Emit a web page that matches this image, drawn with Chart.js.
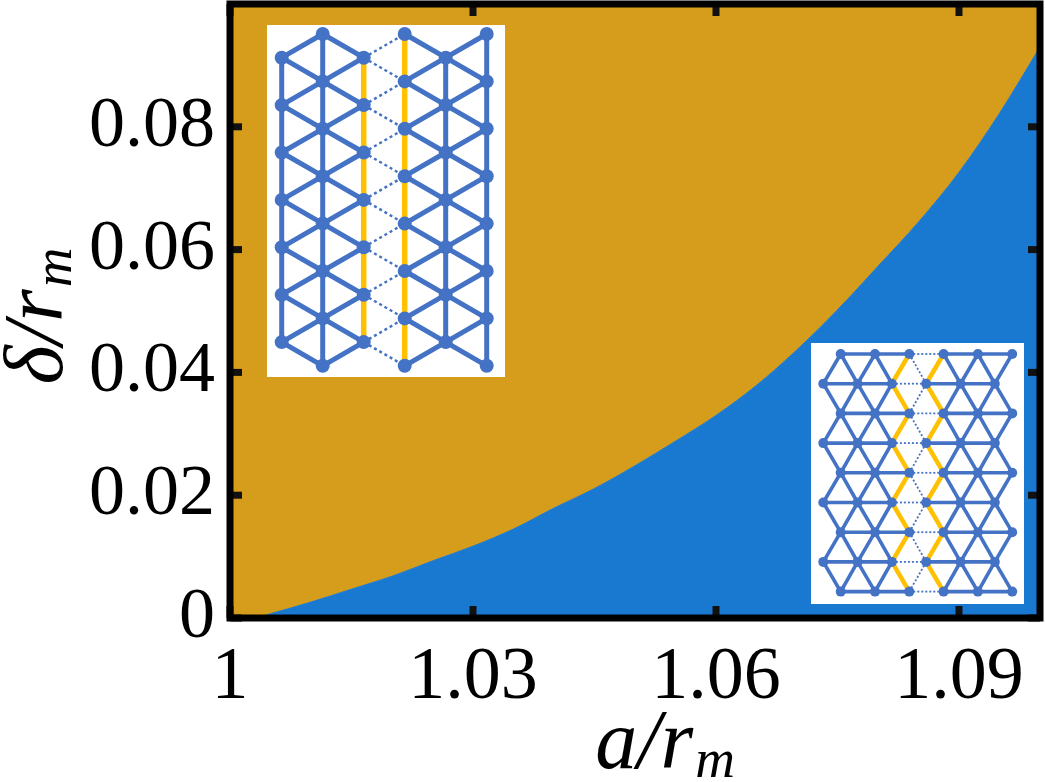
<!DOCTYPE html>
<html>
<head>
<meta charset="utf-8">
<script src="https://cdn.jsdelivr.net/npm/chart.js@4.4.0/dist/chart.umd.min.js"></script>
<style>
  html, body { margin: 0; padding: 0; background: #fff; }
  #wrap { width: 1045px; height: 782px; position: relative; }
</style>
</head>
<body>
<div id="wrap"><canvas id="phase-chart"></canvas></div>
<script>
// phase boundary delta_c(a)
const aValues = [1.000, 1.003, 1.005, 1.010, 1.015, 1.020, 1.025, 1.030, 1.035, 1.040, 1.045,
  1.050, 1.055, 1.060, 1.065, 1.070, 1.075, 1.080, 1.085, 1.090, 1.095, 1.100];
const deltaValues = [0, 0, 0.0007, 0.0026, 0.0047, 0.0068, 0.0093, 0.0117, 0.0145, 0.0179, 0.0211,
  0.0248, 0.0288, 0.0330, 0.0379, 0.0437, 0.0502, 0.0573, 0.0645, 0.0726, 0.0822, 0.0930];

const xTicks = [1, 1.03, 1.06, 1.09];
const xTickLabels = ["1", "1.03", "1.06", "1.09"];
const yTicks = [0, 0.02, 0.04, 0.06, 0.08];
const yTickLabels = ["0", "0.02", "0.04", "0.06", "0.08"];

const ORANGE = "#D69D1C";
const BLUE = "#1979D1";
const NODE = "#4472C4";
const GOLD = "#FFC000";
const SERIF = '"Liberation Serif", "DejaVu Serif", serif';

const points = aValues.map((a, i) => ({ x: a, y: deltaValues[i] }));

// little lattice sketches that sit inside the plot
const drawEdge = (ctx, x1, y1, x2, y2, kind, w) => {
  ctx.save();
  if (kind === "dot") {
    ctx.strokeStyle = NODE;
    ctx.lineWidth = w.dot;
    ctx.setLineDash(w.dash);
  } else if (kind === "gold") {
    ctx.strokeStyle = GOLD;
    ctx.lineWidth = w.gold;
  } else {
    ctx.strokeStyle = NODE;
    ctx.lineWidth = w.line;
  }
  ctx.beginPath();
  ctx.moveTo(x1, y1);
  ctx.lineTo(x2, y2);
  ctx.stroke();
  ctx.restore();
};

const drawNodes = (ctx, nodes, r) => {
  ctx.fillStyle = NODE;
  nodes.forEach(([x, y]) => {
    ctx.beginPath();
    ctx.arc(x, y, r, 0, Math.PI * 2);
    ctx.fill();
  });
};

// columns run vertically, the cut is between column 2 and 3
const drawInsetColumns = (ctx, bx, by, bw, bh) => {
  ctx.fillStyle = "#fff";
  ctx.fillRect(bx, by, bw, bh);
  const w = { line: 5, gold: 5.5, dot: 2.4, dash: [3, 3] };
  const x0 = bx + 14.7, dx = 41, y0 = by + 9, dy = 23.7;
  const nodes = [];
  const colRows = (c) => {
    const rows = [];
    for (let r = 0; r <= 14; r++) if (r % 2 === (c + 1) % 2) rows.push(r);
    return rows;
  };
  for (let c = 0; c < 6; c++) {
    const rows = colRows(c);
    const x = x0 + c * dx;
    for (let k = 0; k < rows.length - 1; k++) {
      drawEdge(ctx, x, y0 + rows[k] * dy, x, y0 + rows[k + 1] * dy,
        c === 2 || c === 3 ? "gold" : "line", w);
    }
    if (c < 5) {
      rows.forEach((r) => {
        [r - 1, r + 1].forEach((r2) => {
          if (r2 < 0 || r2 > 14) return;
          drawEdge(ctx, x, y0 + r * dy, x + dx, y0 + r2 * dy, c === 2 ? "dot" : "line", w);
        });
      });
    }
    rows.forEach((r) => nodes.push([x, y0 + r * dy]));
  }
  drawNodes(ctx, nodes, 7);
};

// rows run horizontally, the cut is between node 2 and 3 of each row
const drawInsetRows = (ctx, bx, by, bw, bh) => {
  ctx.fillStyle = "#fff";
  ctx.fillRect(bx, by, bw, bh);
  const w = { line: 3.6, gold: 4.5, dot: 1.8, dash: [2, 2] };
  const y0 = by + 11, dy = 29.7, dx = 34.3;
  const rowX = (r, j) => bx + (r % 2 === 0 ? 29.7 : 12.3) + j * dx;
  const nodes = [];
  for (let r = 0; r <= 8; r++) {
    const y = y0 + r * dy;
    for (let j = 0; j < 5; j++) {
      drawEdge(ctx, rowX(r, j), y, rowX(r, j + 1), y, j === 2 ? "dot" : "line", w);
    }
    if (r % 2 === 0) {
      [r - 1, r + 1].forEach((r2) => {
        if (r2 < 0 || r2 > 8) return;
        const y2 = y0 + r2 * dy;
        for (let j = 0; j < 6; j++) {
          drawEdge(ctx, rowX(r, j), y, rowX(r2, j), y2, j === 2 || j === 3 ? "gold" : "line", w);
          if (j < 5) drawEdge(ctx, rowX(r, j), y, rowX(r2, j + 1), y2, j === 2 ? "dot" : "line", w);
        }
      });
    }
    for (let j = 0; j < 6; j++) nodes.push([rowX(r, j), y]);
  }
  drawNodes(ctx, nodes, 5);
};

const drawSubLabel = (ctx, main, sub, size) => {
  const fMain = `italic ${size}px ${SERIF}`;
  const fSub = `italic ${Math.round(size * 0.66)}px ${SERIF}`;
  ctx.font = fMain;
  const w1 = ctx.measureText(main).width;
  ctx.font = fSub;
  const w2 = ctx.measureText(sub).width;
  const start = -(w1 + w2) / 2;
  ctx.fillStyle = "#000";
  ctx.textBaseline = "alphabetic";
  ctx.textAlign = "left";
  ctx.font = fMain;
  ctx.fillText(main, start, 0);
  ctx.font = fSub;
  ctx.fillText(sub, start + w1 + 2, size * 0.11);
};

const framePlugin = {
  id: "frame",
  afterDatasetsDraw(chart) {
    const ctx = chart.ctx;
    ctx.save();
    drawInsetColumns(ctx, 267, 25, 238, 352);
    drawInsetRows(ctx, 811, 343, 213, 261);
    ctx.restore();
  },
  afterDraw(chart) {
    const { ctx, chartArea, scales } = chart;
    const { left, right, top, bottom } = chartArea;
    ctx.save();
    // inward tick marks on all four sides
    ctx.fillStyle = "#111";
    scales.x.ticks.forEach((t) => {
      const px = scales.x.getPixelForValue(t.value);
      ctx.fillRect(px - 3.5, bottom - 12, 7, 12);
      ctx.fillRect(px - 3.5, top, 7, 12);
    });
    scales.y.ticks.forEach((t) => {
      const py = scales.y.getPixelForValue(t.value);
      ctx.fillRect(left, py - 3.5, 12, 7);
      ctx.fillRect(right - 12, py - 3.5, 12, 7);
    });
    // box
    ctx.strokeStyle = "#000";
    ctx.lineWidth = 7;
    ctx.strokeRect(left, top, right - left, bottom - top);
    // axis titles
    ctx.save();
    ctx.translate(664, 768);
    drawSubLabel(ctx, "a/r", "m", 84);
    ctx.restore();
    ctx.save();
    ctx.translate(62, 317);
    ctx.rotate(-Math.PI / 2);
    drawSubLabel(ctx, "\u03B4/r", "m", 84);
    ctx.restore();
    ctx.restore();
  },
};

new Chart(document.getElementById("phase-chart"), {
  type: "line",
  data: {
    datasets: [
      {
        label: "lower phase",
        data: points,
        fill: "start",
        backgroundColor: BLUE,
        borderColor: BLUE,
        borderWidth: 1,
        pointRadius: 0,
        cubicInterpolationMode: "monotone",
        order: 1,
      },
      {
        label: "upper phase",
        data: points,
        fill: "end",
        backgroundColor: ORANGE,
        borderWidth: 0,
        pointRadius: 0,
        cubicInterpolationMode: "monotone",
        order: 2,
      },
    ],
  },
  options: {
    responsive: true,
    maintainAspectRatio: false,
    animation: false,
    devicePixelRatio: 1,
    layout: { padding: { top: 4, right: 5, left: 0, bottom: 0 } },
    plugins: { legend: { display: false }, tooltip: { enabled: false } },
    scales: {
      x: {
        type: "linear",
        min: 1,
        max: 1.1,
        grid: { display: false, drawTicks: false },
        border: { display: false },
        afterBuildTicks: (s) => { s.ticks = xTicks.map((v) => ({ value: v })); },
        afterFit: (s) => {
          s.height = 164;
          s.paddingLeft = 0;
          s.paddingRight = 0;
        },
        ticks: {
          callback: (v, i) => xTickLabels[i],
          font: { family: SERIF, size: 74 },
          color: "#000",
          padding: 16,
          maxRotation: 0,
          autoSkip: false,
        },
      },
      y: {
        type: "linear",
        min: 0,
        max: 0.1,
        grid: { display: false, drawTicks: false },
        border: { display: false },
        afterBuildTicks: (s) => { s.ticks = yTicks.map((v) => ({ value: v })); },
        afterFit: (s) => {
          s.width = 230;
          s.paddingTop = 0;
          s.paddingBottom = 0;
        },
        ticks: {
          callback: (v, i) => yTickLabels[i],
          font: { family: SERIF, size: 72 },
          color: "#000",
          padding: 15,
          autoSkip: false,
        },
      },
    },
  },
  plugins: [framePlugin],
});
</script>
</body>
</html>
